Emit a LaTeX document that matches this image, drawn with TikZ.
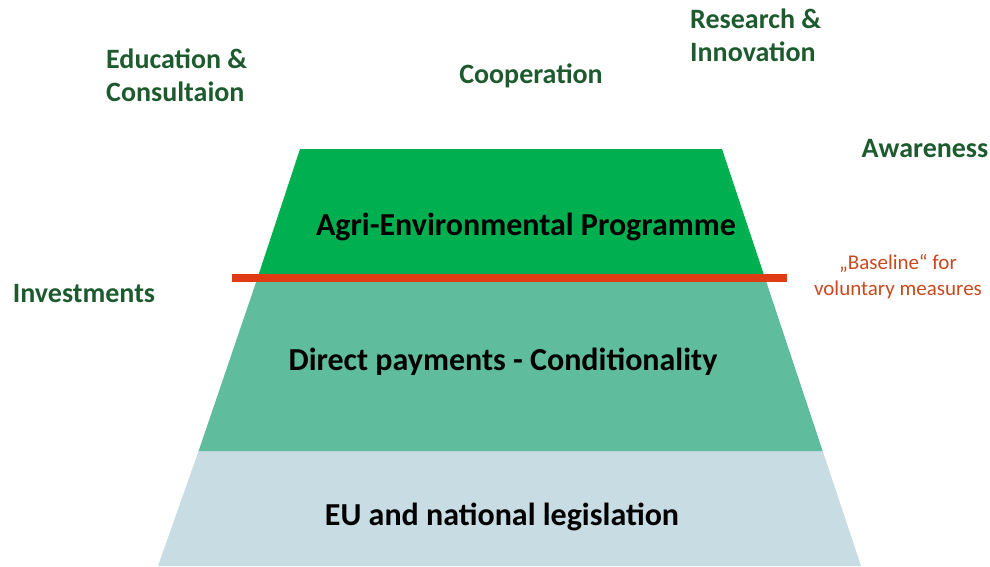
\documentclass[tikz,border=0pt]{standalone}
\usepackage{fontspec}
\setmainfont{Carlito}
\definecolor{topgreen}{HTML}{00B050}
\definecolor{midgreen}{HTML}{5FBD9E}
\definecolor{botblue}{HTML}{C8DCE4}
\definecolor{redline}{HTML}{E03C14}
\definecolor{darkgreen}{HTML}{1D5B2F}
\definecolor{baseorange}{HTML}{C9491E}
\tikzset{
  lbl/.style={text=darkgreen, font=\fontsize{28}{33}\selectfont\bfseries, align=left, inner sep=0pt},
  tier/.style={text=black, font=\fontsize{32}{36}\selectfont\bfseries, inner sep=0pt},
}
\begin{document}
\begin{tikzpicture}[x=1pt,y=-1pt]
\useasboundingbox (0,0) rectangle (990,566);
% tiers
\fill[botblue] (198.6,451) -- (822.7,451) -- (861,566) -- (158,566) -- cycle;
\fill[midgreen] (256.3,281.5) -- (766.2,281.5) -- (822.7,451) -- (198.6,451) -- cycle;
\fill[topgreen] (300,149) -- (722,149) -- (766.2,281.5) -- (256.3,281.5) -- cycle;
\coordinate (rl) at (232,278);
\coordinate (rr) at (787,278);
\draw[redline, line width=8pt] (rl) -- (rr);
% tier labels
\node[tier] (aep) at (526,227) {Agri-Environmental Programme};
\node[tier] (dpc) at (503,362) {Direct payments - Conditionality};
\node[tier] (eul) at (502,517) {EU and national legislation};
% surrounding labels
\node[lbl, anchor=west] (edu) at (106,75) {Education \&\\Consultaion};
\node[lbl] (coop) at (531,76) {Cooperation};
\node[lbl, anchor=west] (res) at (690,35) {Research \&\\Innovation};
\node[lbl] (aw) at (925,149) {Awareness};
\node[lbl] (inv) at (84,294) {Investments};
\node[text=baseorange, font=\fontsize{21}{26}\selectfont, align=center, inner sep=0pt] (base) at (898,277) {„Baseline“ for\\voluntary measures};
\end{tikzpicture}
\end{document}
